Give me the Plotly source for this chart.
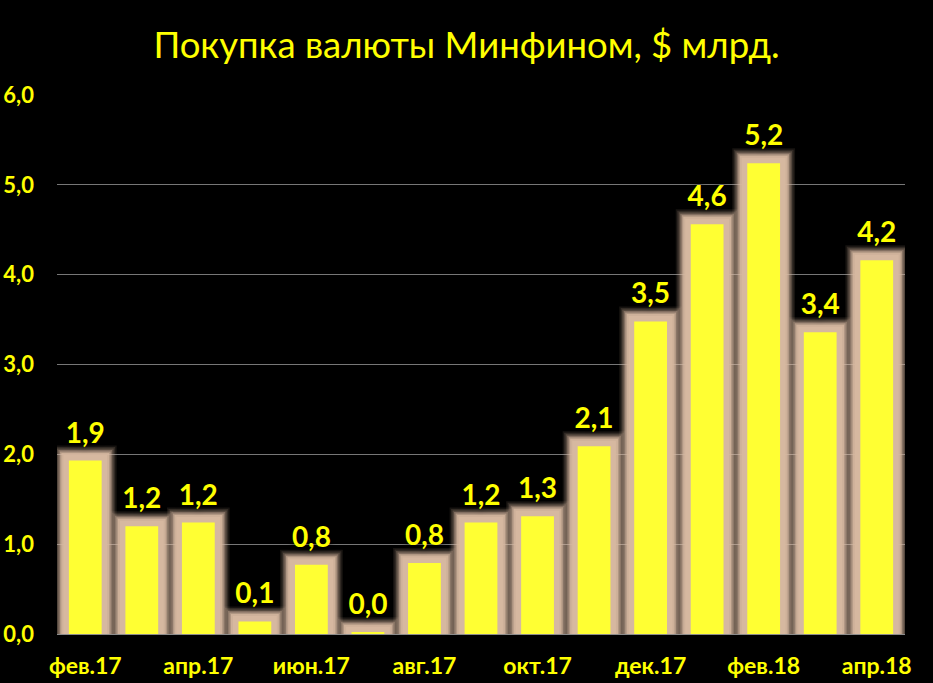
import plotly.graph_objects as go

categories = ["фев.17", "мар.17", "апр.17", "май.17", "июн.17", "июл.17", "авг.17",
              "сен.17", "окт.17", "ноя.17", "дек.17", "янв.18", "фев.18", "мар.18", "апр.18"]
values = [1.93, 1.20, 1.24, 0.14, 0.77, 0.02, 0.79, 1.24, 1.31, 2.09, 3.48, 4.56, 5.24, 3.36, 4.16]
tick_labels = categories[::2]
title_text = "Покупка валюты Минфином, $ млрд."

YELLOW = "#FFFF33"
TXT = "#FFFF00"
BW = 0.58

fig = go.Figure()
glow_layers = [(30, 0.10), (27, 0.15), (24, 0.22), (21, 0.35), (18, 0.55), (15, 0.8), (11, 1.0)]
for lw, a in glow_layers:
    col = f"rgba(214,184,160,{a})"
    fig.add_trace(go.Bar(x=categories, y=values, width=BW,
                         marker=dict(color=col, line=dict(color=col, width=lw)),
                         hoverinfo="skip", showlegend=False))
fig.add_trace(go.Bar(x=categories, y=values, width=BW,
                     marker=dict(color=YELLOW, line=dict(width=0)),
                     showlegend=False))
fig.add_trace(go.Scatter(x=categories, y=values, mode="markers+text",
                         marker=dict(size=16, color="rgba(0,0,0,0)"),
                         texttemplate="%{y:.1f}", textposition="top center",
                         textfont=dict(family="Lato", size=28, color=TXT, weight="bold",
                                       shadow="0px 0px 6px #000"),
                         cliponaxis=False, hoverinfo="skip", showlegend=False))

fig.update_layout(
    barmode="overlay",
    width=933, height=683,
    paper_bgcolor="black", plot_bgcolor="black",
    separators=", ",
    margin=dict(l=57, r=28, t=95, b=49),
    title=dict(text=title_text, x=0.5, xanchor="center", y=0.934, yanchor="middle",
               font=dict(family="Lato", size=36.5, color=TXT)),
    xaxis=dict(tickmode="array", tickvals=tick_labels, ticktext=tick_labels,
               range=[-0.5, len(categories) - 0.5],
               tickfont=dict(family="Lato", size=23, color=TXT, weight="bold"),
               showgrid=False, showline=True, linecolor="#8c8c8c", linewidth=1,
               ticks="", ticklabelstandoff=11, automargin=False),
    yaxis=dict(range=[0, 6], dtick=1, tickformat=".1f",
               tickfont=dict(family="Lato", size=22, color=TXT, weight="bold"),
               showgrid=True, gridcolor="#777777", gridwidth=1, zeroline=False,
               showline=False, ticks="", ticklabelstandoff=22, automargin=False),
)
fig.write_html("out.html", config={"displayModeBar": False},
               post_script="document.body.style.margin='0';document.body.style.background='black';"
                           "document.documentElement.style.background='black';")
